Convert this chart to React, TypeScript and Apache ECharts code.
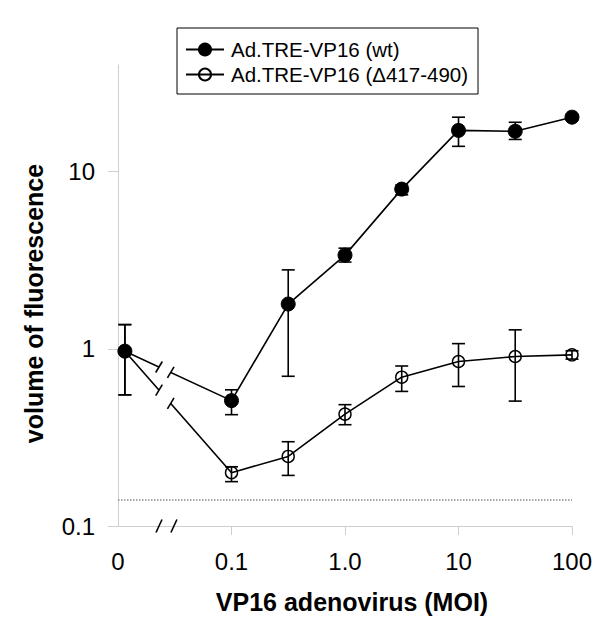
import React, { useEffect, useRef } from "react";
import * as echarts from "echarts";

// ---- data ----
const xTickValues = [0.01, 0.1, 1, 10, 100];
const xTickLabels = ["0", "0.1", "1.0", "10", "100"];
const yTickValues = [0.1, 1, 10];
const yTickLabels = ["0.1", "1", "10"];

// doses (MOI); 0 is shown at a break position left of 0.1
const doses = [0, 0.1, 0.316, 1, 3.16, 10, 31.6, 100];
const ZERO_POS = 0.0115;

const wtName = "Ad.TRE-VP16 (wt)";
const wtMean = [0.97, 0.51, 1.79, 3.38, 7.97, 17.1, 16.9, 20.3];
const wtLow = [0.55, 0.425, 0.7, 3.09, 7.4, 13.9, 15.2, 19.6];
const wtHigh = [1.37, 0.587, 2.79, 3.7, 8.4, 20.3, 19.0, 21.0];

const dName = "Ad.TRE-VP16 (\u0394417-490)";
const dMean = [0.97, 0.2, 0.247, 0.428, 0.692, 0.848, 0.905, 0.925];
const dLow = [0.55, 0.178, 0.193, 0.373, 0.575, 0.613, 0.507, 0.875];
const dHigh = [1.37, 0.216, 0.299, 0.484, 0.8, 1.07, 1.28, 0.975];

const BASELINE = 0.142;

const FONT = "Liberation Sans, Arial, sans-serif";
const AXIS_GRAY = "#cfcfcf";

const xPos = (d: number) => (d === 0 ? ZERO_POS : d);

function fmt(values: number[], labels: string[]) {
  return (v: number) => {
    const lv = Math.log10(v);
    for (let i = 0; i < values.length; i++) {
      if (Math.abs(Math.log10(values[i]) - lv) < 1e-6) return labels[i];
    }
    return "";
  };
}

function errSeries(name: string, low: number[], high: number[], z: number) {
  return {
    type: "custom",
    name: name + " err",
    z,
    silent: true,
    data: doses.map((d, i) => [xPos(d), low[i], high[i]]),
    encode: { x: 0, y: [1, 2] },
    renderItem: (_p: any, api: any) => {
      const x = api.value(0);
      const lo = api.coord([x, api.value(1)]);
      const hi = api.coord([x, api.value(2)]);
      const w = 6.5;
      const st = { stroke: "#000", lineWidth: 1.6 };
      return {
        type: "group",
        children: [
          { type: "line", shape: { x1: lo[0], y1: lo[1], x2: hi[0], y2: hi[1] }, style: st },
          { type: "line", shape: { x1: lo[0] - w, y1: lo[1], x2: lo[0] + w, y2: lo[1] }, style: st },
          { type: "line", shape: { x1: hi[0] - w, y1: hi[1], x2: hi[0] + w, y2: hi[1] }, style: st },
        ],
      };
    },
  };
}

export default function App() {
  const ref = useRef<HTMLDivElement>(null);
  useEffect(() => {
    if (!ref.current) return;
    const chart = echarts.init(ref.current, undefined, { renderer: "svg" });
    const option: any = {
      animation: false,
      backgroundColor: "#fff",
      textStyle: { fontFamily: FONT },
      grid: { left: 118, right: 39, top: 65, bottom: 105 },
      legend: {
        orient: "vertical",
        left: 177,
        top: 28,
        padding: [11, 10, 9, 8],
        itemGap: 4,
        itemWidth: 38,
        itemHeight: 15,
        borderColor: "#000",
        borderWidth: 1,
        textStyle: { fontSize: 20.5, fontFamily: FONT, color: "#000", padding: [0, 0, 0, 2] },
        data: [wtName, dName],
      },
      xAxis: {
        type: "log",
        logBase: 10,
        min: 0.01,
        max: 100,
        name: "VP16 adenovirus (MOI)",
        nameLocation: "middle",
        nameGap: 63,
        nameTextStyle: {
          fontSize: 25,
          fontWeight: "bold",
          color: "#000",
          fontFamily: FONT,
          padding: [0, 0, 0, 14],
        },
        axisLine: { lineStyle: { color: AXIS_GRAY, width: 1 } },
        axisTick: { show: true, length: 9, customValues: xTickValues.slice(1), lineStyle: { color: AXIS_GRAY } },
        axisLabel: {
          customValues: xTickValues,
          formatter: fmt(xTickValues, xTickLabels),
          fontSize: 24,
          color: "#000",
          margin: 23,
          fontFamily: FONT,
        },
        splitLine: { show: false },
      },
      yAxis: {
        type: "log",
        logBase: 10,
        min: 0.1,
        max: 40,
        name: "volume of fluorescence",
        nameLocation: "middle",
        nameGap: 72,
        nameTextStyle: {
          fontSize: 25,
          fontWeight: "bold",
          color: "#000",
          fontFamily: FONT,
          padding: [0, 16, 0, 0],
        },
        axisLine: { show: true, lineStyle: { color: AXIS_GRAY, width: 1 } },
        axisTick: { show: true, length: 10, customValues: yTickValues, lineStyle: { color: AXIS_GRAY } },
        axisLabel: {
          customValues: yTickValues,
          formatter: fmt(yTickValues, yTickLabels),
          fontSize: 24,
          color: "#000",
          margin: 23,
          fontFamily: FONT,
        },
        splitLine: { show: false },
      },
      series: [
        errSeries(dName, dLow, dHigh, 2),
        {
          type: "line",
          name: dName,
          z: 3,
          data: doses.map((d, i) => [xPos(d), dMean[i]]),
          symbol: "circle",
          symbolSize: 12,
          itemStyle: { color: "rgba(255,255,255,0)", borderColor: "#000", borderWidth: 1.4 },
          lineStyle: { color: "#000", width: 1.6 },
          markLine: {
            silent: true,
            symbol: "none",
            label: { show: false },
            lineStyle: { type: "dotted", color: "#8a8a8a", width: 1.5 },
            data: [{ yAxis: BASELINE }],
          },
        },
        errSeries(wtName, wtLow, wtHigh, 4),
        {
          type: "line",
          name: wtName,
          z: 5,
          data: doses.map((d, i) => [xPos(d), wtMean[i]]),
          symbol: "circle",
          symbolSize: 14,
          itemStyle: { color: "#000", borderColor: "#000", borderWidth: 1 },
          lineStyle: { color: "#000", width: 1.6 },
        },
      ],
    };
    chart.setOption(option);

    // break marks, positioned through the chart's own scales
    const pix = (x: number, y: number) => chart.convertToPixel({ gridIndex: 0 } as any, [x, y]) as number[];
    const graphics: any[] = [];
    const slash = (cx: number, cy: number, dx: number, dy: number) => ({
      type: "line",
      z: 100,
      shape: { x1: cx - dx, y1: cy + dy, x2: cx + dx, y2: cy - dy },
      style: { stroke: "#000", lineWidth: 1.6 },
    });
    [wtMean, dMean].forEach((m) => {
      const p0 = pix(ZERO_POS, m[0]);
      const p1 = pix(doses[1], m[1]);
      const at = (f: number) => [p0[0] + (p1[0] - p0[0]) * f, p0[1] + (p1[1] - p0[1]) * f];
      const a = at(0.32);
      const b = at(0.43);
      graphics.push({
        type: "line",
        z: 99,
        shape: { x1: a[0], y1: a[1], x2: b[0], y2: b[1] },
        style: { stroke: "#fff", lineWidth: 5 },
      });
      graphics.push(slash(a[0], a[1], 3.3, 5.5));
      graphics.push(slash(b[0], b[1], 3.3, 5.5));
    });
    const q0 = pix(ZERO_POS, 0.1);
    const q1 = pix(doses[1], 0.1);
    [0.32, 0.46].forEach((f) => {
      graphics.push(slash(q0[0] + (q1[0] - q0[0]) * f, q0[1], 3, 6.5));
    });
    chart.setOption({ graphic: graphics });

    return () => chart.dispose();
  }, []);
  return <div ref={ref} style={{ position: "fixed", left: 0, top: 0, width: 611, height: 631 }} />;
}
